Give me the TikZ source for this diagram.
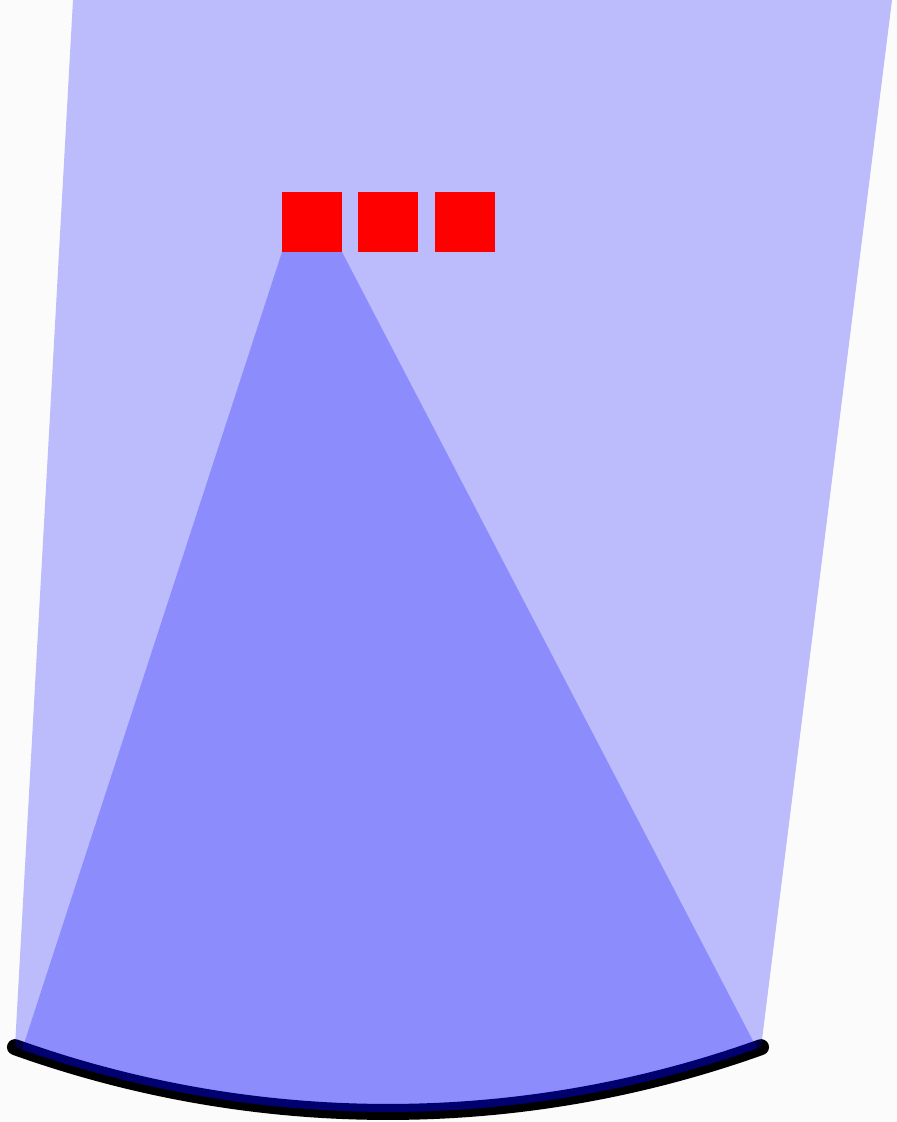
\documentclass[tikz,border=0pt]{standalone}
\usepackage{tikz}
\usetikzlibrary{calc}
\tikzset{>=latex}
\tikzset{
  beam/.style={fill=blue, fill opacity=0.25, draw=none},
  pixel/.style={fill=red, draw=none},
  lens/.style={line width=8pt, line cap=round, black}
}
\begin{document}
\begin{tikzpicture}[x=0.5pt,y=-0.5pt]
  \fill[gray!3] (0,0) rectangle (897,1122);
  \useasboundingbox (0,0) rectangle (897,1122);
  % mirror arc, centre (388,6.4)
  \coordinate (c) at (388,6.4);
  \draw[lens] ($(c)+(109.72:1105.6)$) arc[start angle=109.72, end angle=70.28, radius=1105.6];
  % wide beam
  \fill[beam] (73,0) -- (892,0) -- ($(c)+(70.28:1105.6)$)
    arc[start angle=70.28, end angle=109.72, radius=1105.6] -- cycle;
  % cone from the first pixel
  \fill[beam] (282,252) -- (342,252) -- ($(c)+(70.5:1105.6)$)
    arc[start angle=70.5, end angle=109.33, radius=1105.6] -- cycle;
  \foreach \x in {282,358,435}
    \fill[pixel] (\x,192) rectangle ++(60,60);
\end{tikzpicture}
\end{document}
